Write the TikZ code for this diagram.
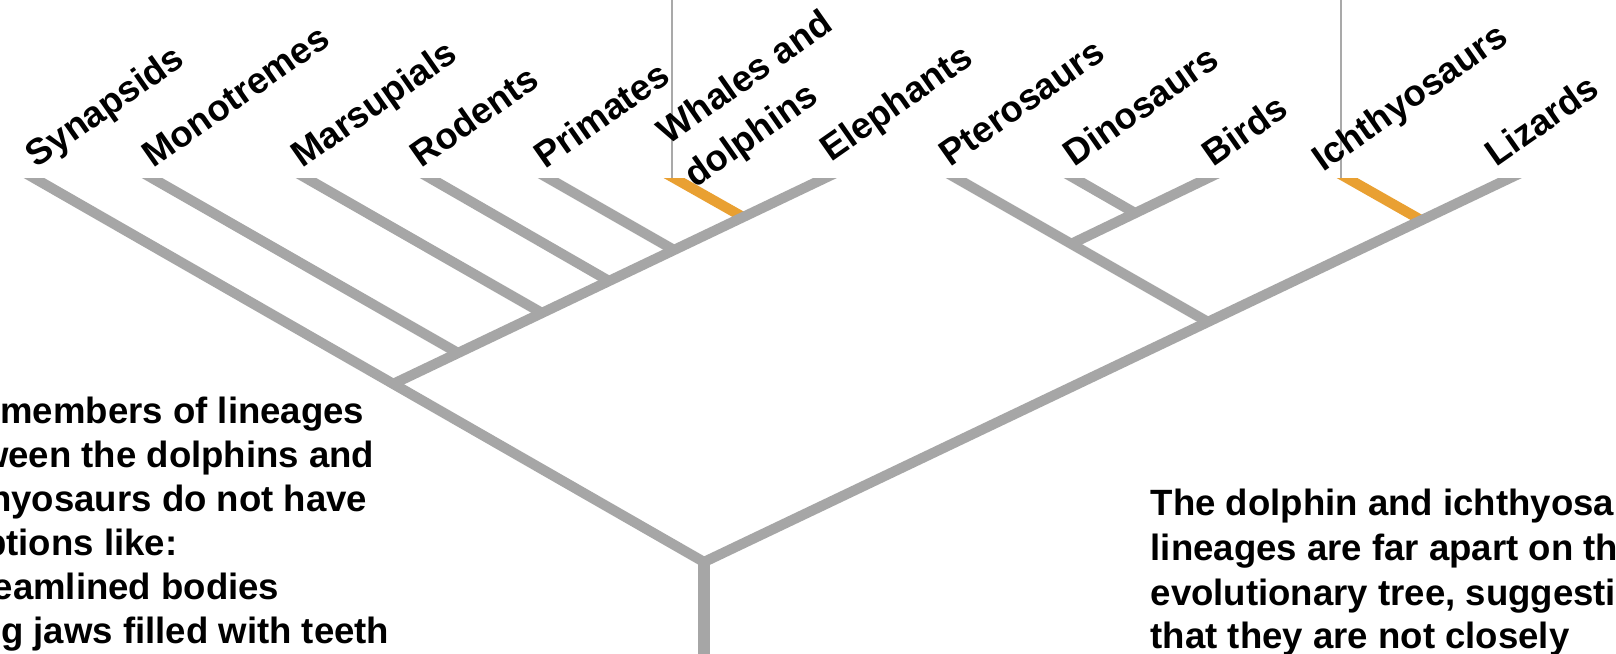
\documentclass[tikz,border=0pt]{standalone}
\usepackage{fontspec}
\setmainfont{Liberation Sans}
\usetikzlibrary{positioning}

\definecolor{branchgray}{HTML}{A6A6A6}
\definecolor{leadgray}{HTML}{A9A9A9}
\definecolor{hilite}{HTML}{E9A032}

\begin{document}
\begin{tikzpicture}[
    x=0.01cm, y=-0.01cm,
    branch/.style={draw=branchgray, line width=2.9pt, shorten <=-10pt},
    hibranch/.style={draw=hilite, line width=2.9pt, shorten <=-10pt},
    trunk/.style={draw=branchgray, line width=3.6pt},
    lead/.style={draw=leadgray, line width=0.7pt},
    taxon/.style={font=\bfseries\fontsize{10.4}{12.5}\selectfont, rotate=35, anchor=base west, inner sep=0pt},
    note/.style={font=\bfseries\fontsize{10.4}{12.5}\selectfont, inner sep=0pt}
]
\useasboundingbox[fill=white] (0,0) rectangle (1616,653);

% Tips
\coordinate (synT) at (34,178);
\coordinate (monoT) at (152,178);
\coordinate (marsT) at (306,178);
\coordinate (rodT) at (430,178);
\coordinate (primT) at (548,178);
\coordinate (whaleT) at (674,178);
\coordinate (eleT) at (825,178);
\coordinate (pteroT) at (956,178);
\coordinate (dinoT) at (1074,178);
\coordinate (birdT) at (1208,178);
\coordinate (ichT) at (1347,178);
\coordinate (lizT) at (1510,178);

% Branch points
\coordinate (root) at (704,562);
\coordinate (mam) at (393,384);
\coordinate (mono) at (458,353);
\coordinate (mars) at (542,313);
\coordinate (rod) at (609,281);
\coordinate (prim) at (674,250);
\coordinate (whale) at (743,217);
\coordinate (rept) at (1208,322);
\coordinate (arch) at (1071,244);
\coordinate (dino) at (1135,213);
\coordinate (ichth) at (1421,220);
\coordinate (base) at (704,670);

% Tree
\begin{scope}
\clip (0,178) rectangle (1616,653);
\draw[hibranch] (whaleT) -- (whale);
\draw[hibranch] (ichT) -- (ichth);
\draw[branch] (monoT) -- (mono);
\draw[branch] (marsT) -- (mars);
\draw[branch] (rodT) -- (rod);
\draw[branch] (primT) -- (prim);
\draw[branch] (eleT) -- (mam);
\draw[branch] (dinoT) -- (dino);
\draw[branch] (birdT) -- (arch);
\draw[branch] (pteroT) -- (rept);
\draw[branch, shorten >=-10pt] (synT) -- (root) -- (lizT);
\draw[trunk] (root) -- (base);
\end{scope}

% Leads from above
\coordinate (whaleTop) at (672,0);
\coordinate (ichTop) at (1341,0);
\draw[lead] (whaleTop) -- (whaleTop |- whaleT);
\draw[lead] (ichTop) -- (ichTop |- ichT);

% Taxon labels
\node[taxon] (synL) at (36,169) {Synapsids};
\node[taxon] (monoL) at (153,169) {Monotremes};
\node[taxon] (marsL) at (302,169) {Marsupials};
\node[taxon] (rodL) at (421,169) {Rodents};
\node[taxon] (primL) at (545,170) {Primates};
\node[taxon] (whaleL) at (668,146) {Whales and};
\node[taxon] (whaleL2) at (695,189) {dolphins};
\node[taxon] (eleL) at (831,163) {Elephants};
\node[taxon] (pteroL) at (950,168) {Pterosaurs};
\node[taxon] (dinoL) at (1074,168) {Dinosaurs};
\node[taxon] (birdL) at (1213,168) {Birds};
\node[taxon] (ichL) at (1323,173) {Ichthyosaurs};
\node[taxon] (lizL) at (1496,168) {Lizards};

% Notes
\foreach \txt/\xe/\yb [count=\i] in {members of lineages/365/423, ween the dolphins and/375/467, hyosaurs do not have/368/511, ptions like:/178/555, eamlined bodies/280/599, g jaws filled with teeth/390/643}
    \node[note, anchor=base east] (leftnote\i) at (\xe,\yb) {\txt};
\foreach \txt/\yb [count=\i] in {The dolphin and ichthyosa/515, lineages are far apart on th/560, {evolutionary tree, suggesti}/605, that they are not closely/648}
    \node[note, anchor=base west] (rightnote\i) at (1150,\yb) {\txt};
\end{tikzpicture}
\end{document}
